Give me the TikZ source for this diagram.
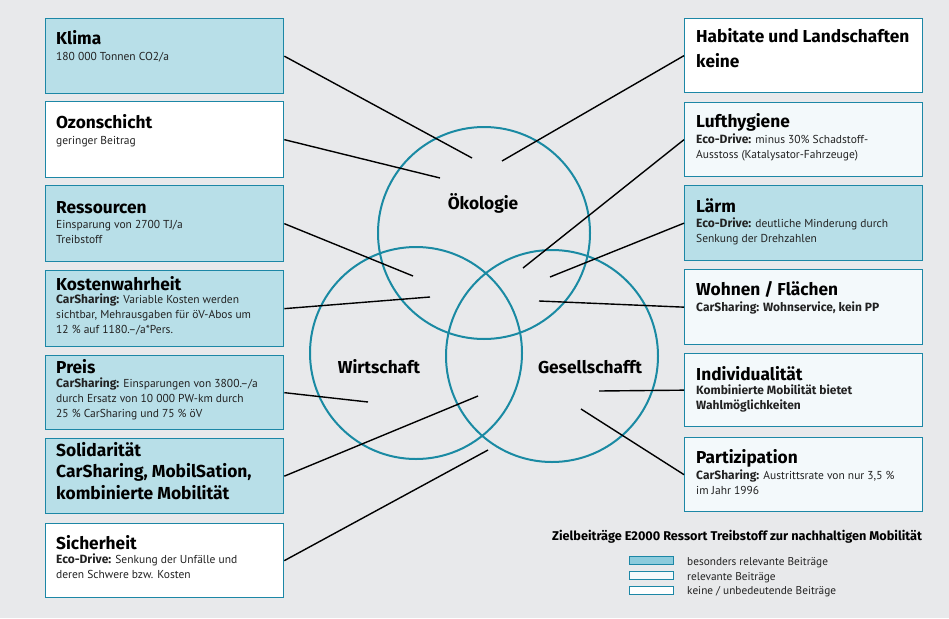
\documentclass[tikz,border=0pt]{standalone}
\usepackage{fontspec}
\setmainfont{PT Sans}
\newfontfamily\heavyfont{Fira Sans}
\newcommand\hb[1]{{\heavyfont\bfseries\fontsize{12}{14.8}\selectfont #1}}
\definecolor{paper}{HTML}{E8E9EB}
\definecolor{boxline}{HTML}{1C87A6}
\definecolor{ringcol}{HTML}{1A8AA3}
\definecolor{hot}{HTML}{B8DFE8}
\definecolor{mild}{HTML}{F3F9FB}
\definecolor{legendhot}{HTML}{8CCBDC}
\definecolor{ink}{HTML}{222222}
\begin{document}
\begin{tikzpicture}[x=1pt,y=-1pt,
  box/.style={draw=boxline, line width=1.3pt, anchor=north west,
    minimum width=238pt, inner sep=0pt},
  hotbox/.style={box, fill=hot},
  mildbox/.style={box, fill=mild},
  plainbox/.style={box, fill=white},
  % multi-line nodes are placed by the baseline of their last line
  title/.style={anchor=base west, inner sep=0pt, align=left,
    font=\heavyfont\bfseries\fontsize{17.3}{25}\selectfont},
  body/.style={anchor=base west, inner sep=0pt, align=left, text=ink,
    font=\fontsize{11.5}{14.8}\selectfont},
  bigbody/.style={anchor=base west, inner sep=0pt, align=left,
    font=\heavyfont\bfseries\fontsize{17.4}{21.5}\selectfont},
  ring/.style={circle, draw=ringcol, line width=2pt, minimum size=212pt,
    inner sep=0pt},
  ringlabel/.style={inner sep=0pt, anchor=base,
    font=\heavyfont\bfseries\fontsize{17.3}{20}\selectfont},
  link/.style={draw=black, line width=1.4pt},
  legbox/.style={draw=boxline, line width=1.1pt, anchor=north west,
    minimum width=44pt, minimum height=8pt, inner sep=0pt},
  legtext/.style={anchor=base west, inner sep=0pt, text=ink,
    font=\fontsize{11.3}{14}\selectfont}
]
% paper
\fill[paper] (0,0) rectangle (949,618);
\useasboundingbox (0,0) rectangle (949,618);

% the three spheres
\node[ring] (oeko) at (484,233) {};
\node[ring] (wirt) at (416,353) {};
\node[ring] (gese) at (552,356) {};
\node[ringlabel] (oeko-l) at (483,209) {Ökologie};
\node[ringlabel] (wirt-l) at (379,373) {Wirtschaft};
\node[ringlabel] (gese-l) at (590,373) {Gesellschafft};

% left column
\node[hotbox, minimum height=75pt] (klima) at (45,18) {};
\node[title] (klima-t) at (56,45) {Klima};
\node[body] (klima-b) at (56,60) {180 000 Tonnen CO2/a};

\node[plainbox, minimum height=76pt] (ozon) at (45,101) {};
\node[title] (ozon-t) at (56,128) {Ozonschicht};
\node[body] (ozon-b) at (56,144) {geringer Beitrag};

\node[hotbox, minimum height=76pt] (ress) at (45,185) {};
\node[title] (ress-t) at (56,213) {Ressourcen};
\node[body] (ress-b) at (56,243) {Einsparung von 2700 TJ/a\\Treibstoff};

\node[hotbox, minimum height=76pt] (kost) at (45,270) {};
\node[title] (kost-t) at (56,290) {Kostenwahrheit};
\node[body] (kost-b) at (56,333) {\hb{CarSharing:} Variable Kosten werden\\sichtbar, Mehrausgaben für öV-Abos um\\12 \% auf 1180.--/a*Pers.};

\node[hotbox, minimum height=74pt] (preis) at (45,355) {};
\node[title] (preis-t) at (56,373) {Preis};
\node[body] (preis-b) at (56,417) {\hb{CarSharing:} Einsparungen von 3800.--/a\\durch Ersatz von 10 000 PW-km durch\\25 \% CarSharing und 75 \% öV};

\node[hotbox, minimum height=75pt] (soli) at (45,438) {};
\node[bigbody] (soli-t) at (56,499) {Solidarität\\CarSharing, MobilSation,\\kombinierte Mobilität};

\node[plainbox, minimum height=74pt] (sich) at (45,523) {};
\node[title] (sich-t) at (56,549) {Sicherheit};
\node[body] (sich-b) at (56,578) {\hb{Eco-Drive:} Senkung der Unfälle und\\deren Schwere bzw. Kosten};

% right column
\node[plainbox, minimum height=74pt] (habi) at (684,18) {};
\node[title] (habi-t) at (696,67) {Habitate und Landschaften\\keine};

\node[mildbox, minimum height=74pt] (luft) at (684,102) {};
\node[title] (luft-t) at (696,127) {Lufthygiene};
\node[body] (luft-b) at (696,158) {\hb{Eco-Drive:} minus 30\% Schadstoff-\\Ausstoss (Katalysator-Fahrzeuge)};

\node[hotbox, minimum height=75pt] (laerm) at (684,185) {};
\node[title] (laerm-t) at (696,212) {Lärm};
\node[body] (laerm-b) at (696,242) {\hb{Eco-Drive:} deutliche Minderung durch\\Senkung der Drehzahlen};

\node[mildbox, minimum height=75pt] (wohn) at (684,269) {};
\node[title] (wohn-t) at (696,295) {Wohnen / Flächen};
\node[body] (wohn-b) at (696,311) {\hb{CarSharing: Wohnservice, kein PP}};

\node[mildbox, minimum height=73pt] (indi) at (684,353) {};
\node[title] (indi-t) at (696,380) {Individualität};
\node[body] (indi-b) at (696,409) {\hb{Kombinierte Mobilität bietet}\\\hb{Wahlmöglichkeiten}};

\node[mildbox, minimum height=74pt] (part) at (684,437) {};
\node[title] (part-t) at (696,463) {Partizipation};
\node[body] (part-b) at (696,494) {\hb{CarSharing:} Austrittsrate von nur 3,5 \%\\im Jahr 1996};

% inner ends of the connectors
\coordinate (klima-e) at (472,158);
\coordinate (ozon-e) at (440,178);
\coordinate (ress-e) at (413,276);
\coordinate (kost-e) at (430,297);
\coordinate (preis-e) at (368,402);
\coordinate (soli-e) at (478,396);
\coordinate (sich-e) at (488,450);
\coordinate (habi-e) at (502,161);
\coordinate (luft-e) at (523,268);
\coordinate (laerm-e) at (550,277);
\coordinate (wohn-e) at (539,301);
\coordinate (indi-e) at (599,391);
\coordinate (part-e) at (581,409);

\foreach \n in {klima,ozon,ress,kost,preis,soli,sich}
  \draw[link] (\n.east) -- (\n-e);
\foreach \n in {habi,luft,laerm,wohn,indi,part}
  \draw[link] (\n.west) -- (\n-e);

% legend
\node[anchor=base west, inner sep=0pt, font=\heavyfont\bfseries\fontsize{12.7}{14}\selectfont]
  (leg-title) at (552,540) {Zielbeiträge E2000 Ressort Treibstoff zur nachhaltigen Mobilität};
\node[legbox, fill=legendhot] (leg1) at (629,556) {};
\node[legbox, fill=mild] (leg2) at (629,571) {};
\node[legbox, fill=white] (leg3) at (629,586) {};
\node[legtext] (leg1-t) at (687,565) {besonders relevante Beiträge};
\node[legtext] (leg2-t) at (687,580) {relevante Beiträge};
\node[legtext] (leg3-t) at (687,594) {keine / unbedeutende Beiträge};
\end{tikzpicture}
\end{document}
